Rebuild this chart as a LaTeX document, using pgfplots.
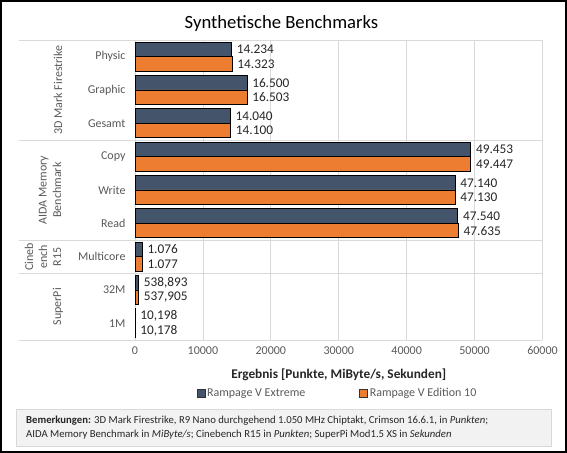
\documentclass[border=0pt]{standalone}
\usepackage{pgfplots}
\pgfplotsset{compat=1.18}
\usepackage{pgfplotstable}
\usepackage{fontspec}
\setmainfont{Carlito}
\definecolor{dark}{HTML}{44546A}
\definecolor{orng}{HTML}{ED7D31}
\definecolor{gridc}{HTML}{D9D9D9}
\definecolor{txtg}{HTML}{595959}
\definecolor{txtd}{HTML}{262626}
\definecolor{notebg}{HTML}{F2F2F2}

\pgfplotstableread{
pos val lab
8 14234 14.234
7 16500 16.500
6 14040 14.040
5 49453 49.453
4 47140 47.140
3 47540 47.540
2 1076 1.076
1 538.893 538,893
0 10.198 10,198
}\extreme
\pgfplotstableread{
pos val lab
8 14323 14.323
7 16503 16.503
6 14100 14.100
5 49447 49.447
4 47130 47.130
3 47635 47.635
2 1077 1.077
1 537.905 537,905
0 10.178 10,178
}\edition

\begin{document}
\begin{tikzpicture}
\useasboundingbox (0,0) rectangle (567bp,453bp);
\draw[line width=2bp] (1bp,1bp) rectangle (566bp,452bp);
% title
\node[anchor=base, font=\fontsize{18.67bp}{22bp}\selectfont, text=black] at (281.5bp,424.7bp) {Synthetische Benchmarks};
% notes box
\draw[fill=notebg, draw=gridc] (16bp,7bp) rectangle (551bp,44bp);
\node[anchor=west, align=left, inner sep=0pt, font=\fontsize{10.7bp}{14bp}\selectfont, text=txtd] at (26bp,25.5bp)
{\textbf{Bemerkungen:} 3D Mark Firestrike, R9 Nano durchgehend 1.050 MHz Chiptakt, Crimson 16.6.1, in \textit{Punkten};\\
AIDA Memory Benchmark in \textit{MiByte/s}; Cinebench R15 in \textit{Punkten}; SuperPi Mod1.5 XS in \textit{Sekunden}};

\begin{axis}[
  at={(135bp,113bp)}, anchor=south west,
  scale only axis, width=407.5bp, height=300bp,
  xbar, bar width=14.5bp,
  xmin=0, xmax=60000, ymin=-0.5, ymax=8.5,
  clip=false,
  axis line style={draw=none},
  xmajorgrids, grid style={draw=gridc, line width=0.75bp},
  xtick={0,10000,20000,30000,40000,50000,60000},
  scaled x ticks=false,
  xticklabel style={font=\fontsize{12bp}{14bp}\selectfont, text=txtg, /pgf/number format/assume math mode=true, /pgf/number format/set thousands separator={}, yshift=-3bp},
  ytick={0,1,2,3,4,5,6,7,8},
  yticklabels={1M,32M,Multicore,Read,Write,Copy,Gesamt,Graphic,Physic},
  yticklabel style={font=\fontsize{12bp}{14bp}\selectfont, text=txtg, xshift=-6bp},
  major tick length=0pt,
  xlabel={\textbf{Ergebnis [Punkte, MiByte/s, Sekunden]}},
  xlabel style={at={(axis description cs:0.5,-0.1167)}, anchor=center, font=\fontsize{13.3bp}{15bp}\selectfont, text=txtd},
  legend columns=2,
  legend style={at={(axis description cs:0.497,-0.1767)}, anchor=center, draw=none, fill=none,
    font=\fontsize{12bp}{14bp}\selectfont, text=txtg,
    /tikz/every even column/.append style={column sep=52bp}},
  legend image code/.code={\draw[#1, draw=black!80, line width=0.4bp] (0bp,-4bp) rectangle (8bp,4bp);},
  nodes near coords,
  point meta=explicit symbolic,
  every node near coord/.append style={font=\fontsize{13.3bp}{15bp}\selectfont, text=txtd, anchor=west, xshift=1.5bp},
]
\addplot[fill=dark, draw=black, line width=0.75bp, bar shift=7.25bp] table[x=val, y=pos, meta=lab] {\extreme};
\addlegendentry{Rampage V Extreme}
\addplot[fill=orng, draw=black, line width=0.75bp, bar shift=-7.25bp] table[x=val, y=pos, meta=lab] {\edition};
\addlegendentry{Rampage V Edition 10}

\draw[gridc, line width=0.75bp] ([xshift=-116bp]axis cs:0,8.5) -- (axis cs:60000,8.5);
\draw[gridc, line width=0.75bp] ([xshift=-116bp]axis cs:0,5.5) -- (axis cs:60000,5.5);
\draw[gridc, line width=0.75bp] ([xshift=-116bp]axis cs:0,2.5) -- (axis cs:60000,2.5);
\draw[gridc, line width=0.75bp] ([xshift=-116bp]axis cs:0,1.5) -- (axis cs:60000,1.5);
\draw[gridc, line width=0.75bp] ([xshift=-116bp]axis cs:0,-0.5) -- (axis cs:60000,-0.5);
\node[rotate=90, align=center, font=\fontsize{12bp}{14bp}\selectfont, text=txtg] at ([xshift=-77bp]axis cs:0,7) {3D Mark Firestrike};
\node[rotate=90, align=center, font=\fontsize{12bp}{14.5bp}\selectfont, text=txtg] at ([xshift=-85bp]axis cs:0,4) {AIDA Memory\\Benchmark};
\node[rotate=90, align=center, font=\fontsize{12bp}{14bp}\selectfont, text=txtg] at ([xshift=-92bp]axis cs:0,2) {Cineb\\ench\\R15};
\node[rotate=90, align=center, font=\fontsize{12bp}{14bp}\selectfont, text=txtg] at ([xshift=-77bp]axis cs:0,0.5) {SuperPi};
\end{axis}
\end{tikzpicture}
\end{document}
